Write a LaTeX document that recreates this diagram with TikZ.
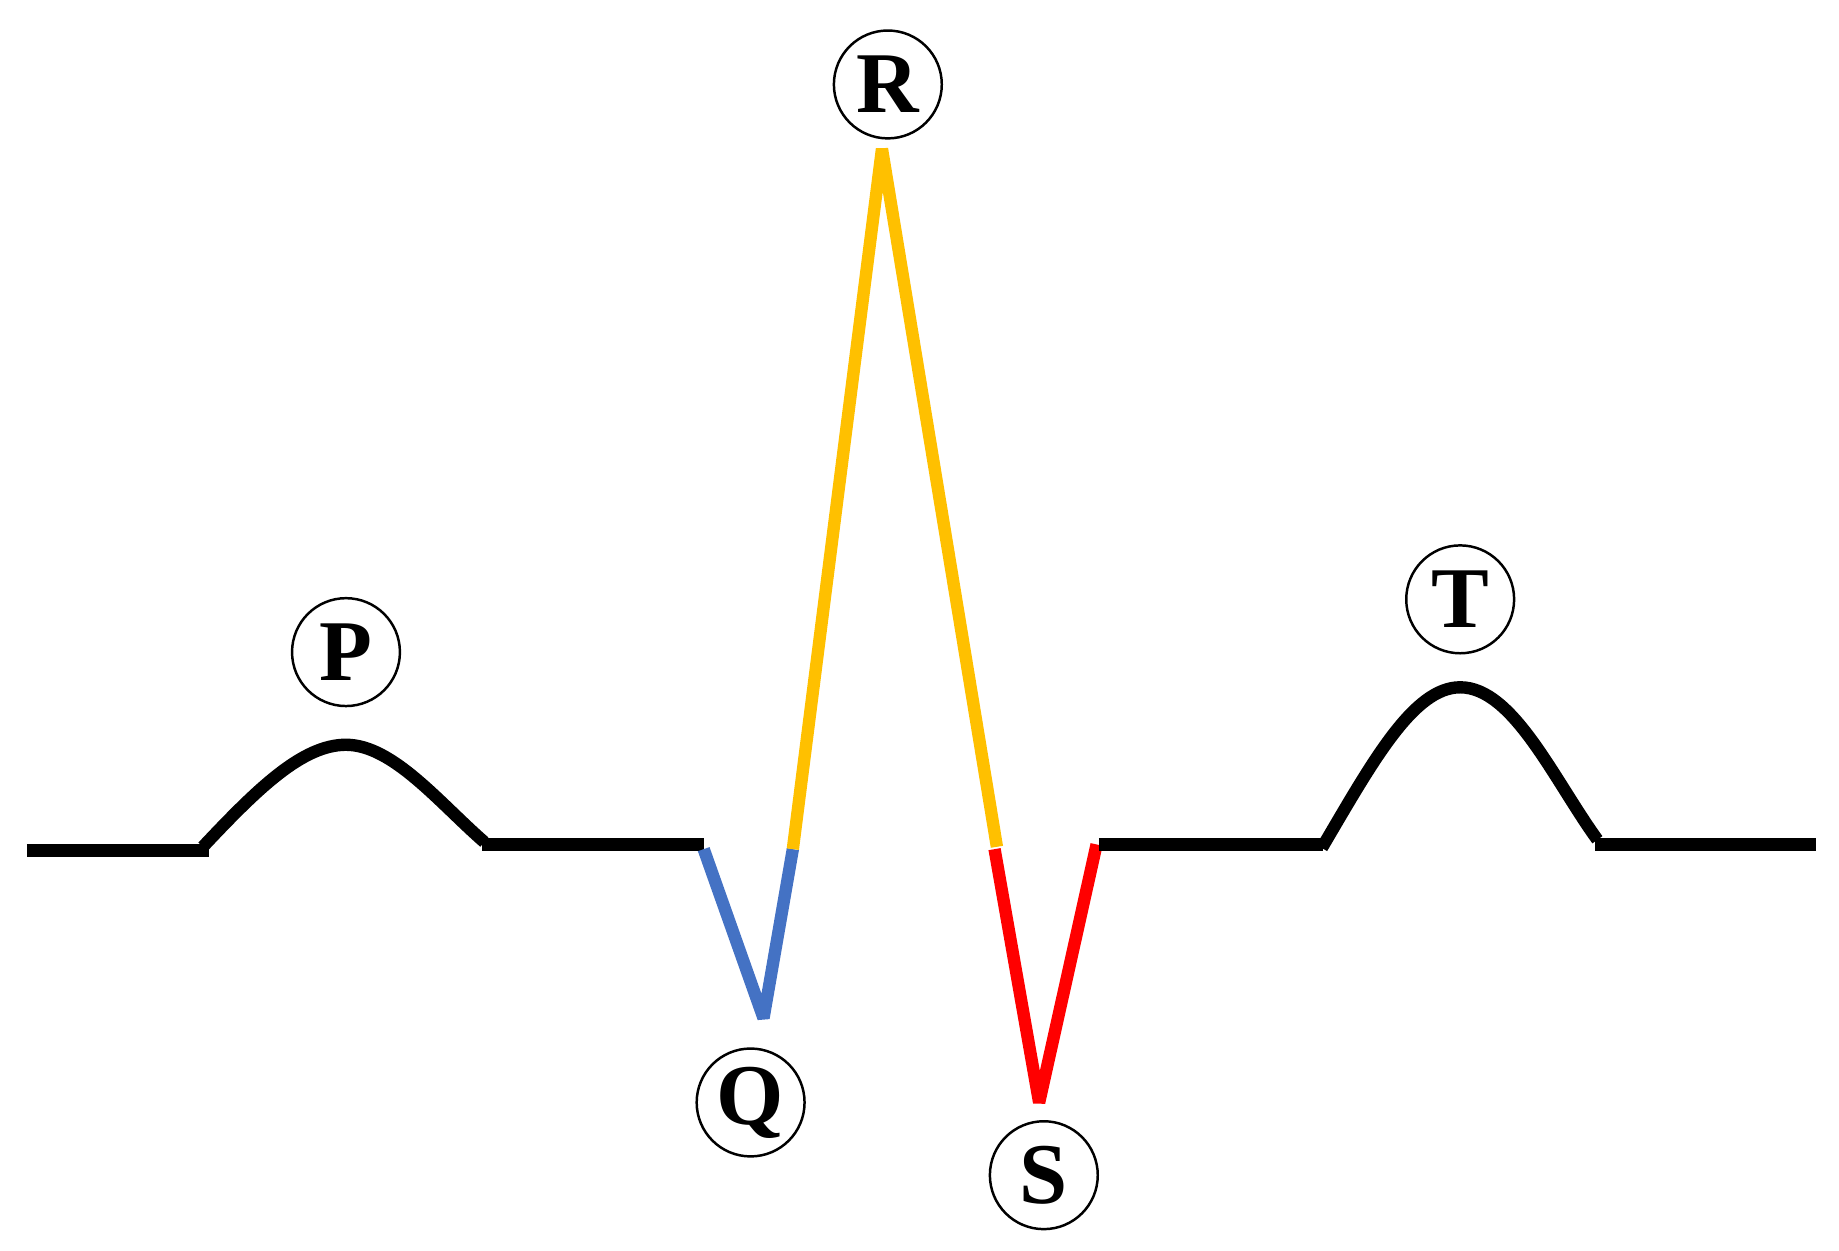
\documentclass[tikz,border=0pt]{standalone}
\usepackage{fontspec}
\setmainfont{Liberation Serif}[BoldFont={Liberation Serif Bold}]
\begin{document}
\begin{tikzpicture}[x=0.02cm,y=-0.02cm,
 ecg/.style={line width=6pt,line join=bevel},
 lab/.style={circle,draw,line width=1.2pt,minimum size=1.84cm,inner sep=0pt,font=\fontsize{42}{42}\selectfont\bfseries}]
\useasboundingbox (0,0) rectangle (1568,1066);
\draw[ecg] (23,725) -- (178,725);
\draw[ecg] (173,722) .. controls (220,672) and (258,635) .. (295,635) .. controls (335,635) and (375,685) .. (413,718);
\draw[ecg] (411,720) -- (600,720);
\draw[ecg,color={rgb,255:red,68;green,114;blue,196}] (600,724) -- (651,868) -- (676,724);
\draw[ecg,color={rgb,255:red,255;green,192;blue,0}] (676,724) -- (752,127) -- (850,722);
\draw[ecg,red] (848,724) -- (886,940) -- (935,720);
\draw[ecg] (937,720) -- (1128,720);
\draw[ecg] (1127,723) .. controls (1170,650) and (1205,586) .. (1245,586) .. controls (1290,586) and (1325,665) .. (1362,716);
\draw[ecg] (1360,720) -- (1548,720);
\node[lab] (P) at (295,556) {P};
\node[lab] (R) at (757,72) {R};
\node[lab] (Q) at (640,940) {Q};
\node[lab] (S) at (890,1002) {S};
\node[lab] (T) at (1245,511) {T};
\end{tikzpicture}
\end{document}
